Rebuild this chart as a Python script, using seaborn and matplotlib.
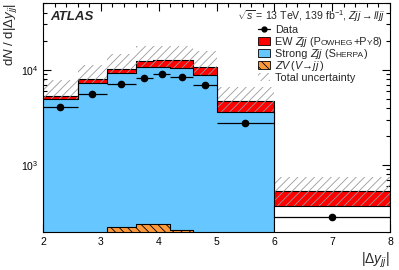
import numpy as np
import pandas as pd
import matplotlib
matplotlib.use("Agg")
from matplotlib import pyplot as plt
from matplotlib import ticker
from matplotlib.patches import Rectangle
from matplotlib.lines import Line2D
import seaborn as sns

# bin edges in |dy_jj| and the per-bin yields dN/d|dy_jj|
edges = [2.0, 2.6, 3.1, 3.6, 3.9, 4.2, 4.6, 5.0, 6.0, 8.0]
data = [4080, 5550, 7150, 8200, 9050, 8380, 6900, 2750, 287]
zv = [120, 170, 225, 238, 238, 206, 160, 90, 12]
strong = [4880, 7030, 9005, 10412, 10362, 10344, 8740, 3560, 358]
ew = [380, 725, 1015, 1650, 2100, 2150, 1900, 1110, 162]
unc_hi = [7850, 11130, 14730, 17600, 17700, 17700, 15620, 6680, 755]
unc_lo = [3800, 5600, 7200, 8700, 8950, 8950, 7600, 3350, 372]

sns.set_style("ticks")
plt.rcParams["font.family"] = ["Liberation Sans", "DejaVu Sans"]
plt.rcParams["mathtext.fontset"] = "custom"
plt.rcParams["mathtext.rm"] = "Liberation Sans"
plt.rcParams["mathtext.it"] = "Liberation Sans:italic"
plt.rcParams["mathtext.bf"] = "Liberation Sans:bold"
plt.rcParams["hatch.linewidth"] = 0.6

red = "#ff0000"
blue = "#66c6ff"
orange = "#ff9a3c"
grey = "#9a9a9a"

edges_a = np.array(edges)
centers = 0.5 * (edges_a[1:] + edges_a[:-1])
halfw = 0.5 * np.diff(edges_a)
blue_top = np.array(zv) + np.array(strong)
total = blue_top + np.array(ew)

df = pd.DataFrame({"x": centers, "total": total, "blue": blue_top, "zv": zv})

fig = plt.figure(figsize=(3.99, 2.70), dpi=100)
ax = fig.add_axes([0.1078, 0.1419, 0.8697, 0.8459])
ax.set_yscale("log")

step_kw = dict(element="step", fill=True, edgecolor="black", linewidth=0.8,
               alpha=1, ax=ax)

# draw the stack ROOT-style: cumulative histograms on top of each other
sns.histplot(data=df, x="x", weights="total", bins=edges, color=red, zorder=1,
             **step_kw)
# uncertainty band sits between red and blue, so only the part above blue shows
ax.fill_between(edges, unc_lo + unc_lo[-1:], unc_hi + unc_hi[-1:],
                step="post", facecolor="none", edgecolor=grey, hatch="////",
                linewidth=0, zorder=2)
sns.histplot(data=df.iloc[:-1], x="x", weights="blue", bins=edges[:-1], color=blue,
             zorder=3, **step_kw)
# last bin shows up white in the original
sns.histplot(data=df.iloc[-1:], x="x", weights="blue", bins=edges[-2:],
             color="white", zorder=3, **step_kw)
sns.histplot(data=df, x="x", weights="zv", bins=edges, color=orange, zorder=4,
             **step_kw)
ax.collections[-1].set_hatch("\\\\\\\\")

ax.errorbar(centers, data, xerr=halfw, fmt="o", color="black", ms=4.5,
            elinewidth=0.9, capsize=0, zorder=6)

ax.set_xlim(2, 8)
ax.set_ylim(200, 50000)
ax.xaxis.set_major_locator(ticker.MultipleLocator(1))
ax.xaxis.set_minor_locator(ticker.MultipleLocator(0.2))
ax.yaxis.set_major_locator(ticker.LogLocator(base=10))
ax.yaxis.set_minor_locator(ticker.LogLocator(base=10, subs=np.arange(2, 10)))
ax.yaxis.set_minor_formatter(ticker.NullFormatter())
ax.tick_params(which="both", direction="in", top=True, right=True, width=0.8,
               labelsize=7.5, colors="black")
ax.tick_params(which="major", length=6)
ax.tick_params(which="minor", length=3)
for sp in ax.spines.values():
    sp.set_linewidth(0.8)
    sp.set_color("black")
    sp.set_zorder(10)

ax.set_ylabel(r"d$N$ / d$|\Delta y_{jj}|$", loc="top", fontsize=9.5, labelpad=1)
ax.set_xlabel(r"$|\Delta y_{jj}|$", loc="right", fontsize=10, labelpad=3)

ax.text(0.02, 0.94, "ATLAS", transform=ax.transAxes, fontsize=9.5,
        fontweight="bold", fontstyle="italic", va="center", ha="left")
ax.text(0.985, 0.945, r"$\sqrt{s}$ = 13 TeV, 139 fb$^{-1}$, $Zjj\rightarrow lljj$",
        transform=ax.transAxes, fontsize=7.6, va="center", ha="right")

# hand-made legend (small caps need pieces of text)
fs = 7.8
sc = 6.0
hx0, hx1, tx = 0.6196, 0.6542, 0.6686
rows_px = [29.5, 41.5, 53.5, 65.5, 77.5]
rows = [1 - (r - 3.3) / 228.4 for r in rows_px]
base = [1 - (r + 3.8 - 3.3) / 228.4 for r in rows_px]
bh = 8 / 228.4

ax.add_line(Line2D([hx0, hx1], [rows[0]] * 2, color="black", lw=0.9,
                   transform=ax.transAxes, zorder=7))
ax.add_line(Line2D([0.5 * (hx0 + hx1)], [rows[0]], marker="o", ms=3.5,
                   color="black", transform=ax.transAxes, zorder=7))
ax.add_patch(Rectangle((hx0, rows[1] - bh / 2), hx1 - hx0, bh, facecolor=red,
                       edgecolor="black", lw=0.6, transform=ax.transAxes, zorder=7))
ax.add_patch(Rectangle((hx0, rows[2] - bh / 2), hx1 - hx0, bh, facecolor=blue,
                       edgecolor="black", lw=0.6, transform=ax.transAxes, zorder=7))
ax.add_patch(Rectangle((hx0, rows[3] - bh / 2), hx1 - hx0, bh, facecolor=orange,
                       edgecolor="black", lw=0.6, hatch="\\\\\\\\",
                       transform=ax.transAxes, zorder=7))
ax.add_patch(Rectangle((hx0, rows[4] - bh / 2), hx1 - hx0, bh, facecolor="none",
                       edgecolor=grey, lw=0, hatch="////",
                       transform=ax.transAxes, zorder=7))

renderer = fig.canvas.get_renderer()
inv = ax.transAxes.inverted()


def chain(y, parts):
    # pieces: (text, size, style); laid end to end on one baseline
    x = tx
    for s, size, style in parts:
        t = ax.text(x, y, s, fontsize=size, fontstyle=style, transform=ax.transAxes,
                    va="baseline", ha="left")
        bb = t.get_window_extent(renderer)
        x = inv.transform((bb.x1, bb.y0))[0]


chain(base[0], [("Data", fs, "normal")])
chain(base[1], [("EW ", fs, "normal"), ("Zjj", fs, "italic"), (" (P", fs, "normal"),
                ("OWHEG", sc, "normal"), ("+P", fs, "normal"), ("Y", sc, "normal"),
                ("8)", fs, "normal")])
chain(base[2], [("Strong ", fs, "normal"), ("Zjj", fs, "italic"), (" (S", fs, "normal"),
                ("HERPA", sc, "normal"), (")", fs, "normal")])
chain(base[3], [(r"$ZV\,(V\!\rightarrow\!jj\,)$", fs, "normal")])
chain(base[4], [("Total uncertainty", fs, "normal")])

fig.savefig("out.png", dpi=100)
